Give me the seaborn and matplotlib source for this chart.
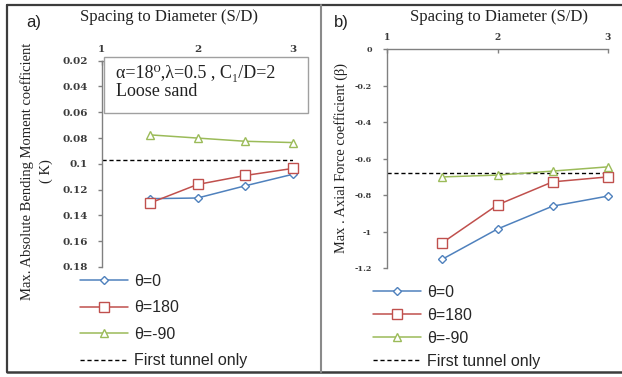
import matplotlib
matplotlib.use("Agg")
import matplotlib.pyplot as plt
from matplotlib.lines import Line2D
from matplotlib.patches import Rectangle
import seaborn as sns
import pandas as pd

# ---- data -------------------------------------------------------------
spacing = [1.5, 2.0, 2.5, 3.0]
series_labels = ["θ=0", "θ=180", "θ=-90"]

# Max. absolute bending moment coefficient K
k_theta0 = [0.127, 0.1265, 0.117, 0.108]
k_theta180 = [0.1305, 0.116, 0.109, 0.1035]
k_theta_m90 = [0.0775, 0.080, 0.0825, 0.0835]
k_first_tunnel = 0.097

# Max. axial force coefficient beta
b_theta0 = [-1.15, -0.985, -0.86, -0.805]
b_theta180 = [-1.06, -0.853, -0.727, -0.70]
b_theta_m90 = [-0.70, -0.69, -0.668, -0.645]
b_first_tunnel = -0.68

k_yticks = [0.02, 0.04, 0.06, 0.08, 0.10, 0.12, 0.14, 0.16, 0.18]
k_yticklabels = ["0.02", "0.04", "0.06", "0.08", "0.1", "0.12", "0.14", "0.16", "0.18"]
b_yticks = [0, -0.2, -0.4, -0.6, -0.8, -1.0, -1.2]
b_yticklabels = ["0", "-0.2", "-0.4", "-0.6", "-0.8", "-1", "-1.2"]
x_ticks = [1, 2, 3]

colors = ["#4F81BD", "#C0504D", "#9BBB59"]
markers = ["D", "s", "^"]
msizes = [4.5, 6.5, 6.0]

W, H = 622, 377
sns.set_theme(style="white")
plt.rcParams["font.family"] = ["Liberation Serif", "DejaVu Serif"]

fig = plt.figure(figsize=(W / 100, H / 100), dpi=100)
fig.patch.set_facecolor("white")

SANS = ["Liberation Sans", "DejaVu Sans"]


def fx(px):
    return px / W


def fy(py):
    return 1 - py / H


def draw_panel(ax, series, first_tunnel, yticks, yticklabels, ylim,
               xtick_fs, ytick_fs, ypad):
    ax.axhline(first_tunnel, color="black", lw=1.0, ls=(0, (3, 2)), zorder=1)
    handles = []
    for vals, lab, col, mk, ms in zip(series, series_labels, colors, markers, msizes):
        df = pd.DataFrame({"S/D": spacing, "value": vals})
        sns.lineplot(data=df, x="S/D", y="value", ax=ax, color=col, lw=1.1,
                     marker=mk, markersize=ms, markerfacecolor="white",
                     markeredgecolor=col, markeredgewidth=1.0, legend=False,
                     clip_on=False, zorder=3)
        handles.append(Line2D([], [], color=col, lw=1.1, marker=mk, markersize=ms,
                              markerfacecolor="white", markeredgecolor=col,
                              markeredgewidth=1.0))
    handles.append(Line2D([], [], color="black", lw=1.0, ls=(0, (3, 2))))

    ax.set_xlim(1, 3)
    ax.set_ylim(*ylim)
    ax.xaxis.tick_top()
    ax.set_xticks(x_ticks)
    ax.set_xticklabels([str(t) for t in x_ticks])
    ax.set_yticks(yticks)
    ax.set_yticklabels(yticklabels)
    ax.set_xlabel("")
    ax.set_ylabel("")
    for side in ["right", "bottom"]:
        ax.spines[side].set_visible(False)
    for side in ["left", "top"]:
        ax.spines[side].set_color("#808080")
        ax.spines[side].set_linewidth(1.0)
    ax.tick_params(axis="x", direction="in", length=3, width=1.0, color="#808080",
                   labelsize=xtick_fs, pad=5, top=True, bottom=False)
    ax.tick_params(axis="y", direction="out", length=3, width=1.0, color="#808080",
                   labelsize=ytick_fs, pad=ypad, left=True)
    for lbl in ax.get_xticklabels() + ax.get_yticklabels():
        lbl.set_family(["DejaVu Serif"])
        lbl.set_fontweight("bold")
        lbl.set_color("#3A3A3A")
    ax.patch.set_alpha(0)
    return handles


# ---- panel a: bending moment -----------------------------------------
ax1 = fig.add_axes([fx(101.7), fy(267), fx(293.3) - fx(101.7), fy(60.7) - fy(267)])
h1 = draw_panel(ax1, [k_theta0, k_theta180, k_theta_m90], k_first_tunnel,
                k_yticks, k_yticklabels, (0.18, 0.02), 7.5, 7.5, 7)
ax1.legend(h1, series_labels + ["First tunnel only"], loc="upper left",
           bbox_to_anchor=(fx(80), fy(274)), bbox_transform=fig.transFigure,
           frameon=False, borderpad=0, borderaxespad=0, handlelength=3.0,
           handletextpad=0.4, labelspacing=0.72,
           prop={"family": SANS, "size": 11.5})

# ---- panel b: axial force --------------------------------------------
ax2 = fig.add_axes([fx(387.3), fy(268.3), fx(607.7) - fx(387.3), fy(49) - fy(268.3)])
h2 = draw_panel(ax2, [b_theta0, b_theta180, b_theta_m90], b_first_tunnel,
                b_yticks, b_yticklabels, (-1.2, 0), 6.5, 5.8, 8)
ax2.legend(h2, series_labels + ["First tunnel only"], loc="upper left",
           bbox_to_anchor=(fx(373), fy(285)), bbox_transform=fig.transFigure,
           frameon=False, borderpad=0, borderaxespad=0, handlelength=3.0,
           handletextpad=0.4, labelspacing=0.5,
           prop={"family": SANS, "size": 11.5})

# ---- titles, axis labels, panel letters ------------------------------
fig.text(fx(169), fy(17), "Spacing to Diameter (S/D)", ha="center", va="center",
         fontsize=12, color="#222222")
fig.text(fx(499), fy(17), "Spacing to Diameter (S/D)", ha="center", va="center",
         fontsize=12, color="#222222")
fig.text(fx(37), fy(171), "Max. Absolute Bending Moment coefficient\n( K)",
         rotation=90, ha="center", va="center", multialignment="center",
         fontsize=10.5, color="#222222", linespacing=1.55)
fig.text(fx(341), fy(158), "Max . Axial Force coefficient (β)", rotation=90,
         ha="center", va="center", fontsize=10.4, color="#222222")
fig.text(fx(34), fy(23), "a)", ha="center", va="center", fontsize=12,
         family=SANS, color="#222222")
fig.text(fx(341), fy(22), "b)", ha="center", va="center", fontsize=12,
         family=SANS, color="#222222")

# ---- parameter box -----------------------------------------------------
fig.add_artist(Rectangle((fx(104), fy(113)), fx(308) - fx(104), fy(57) - fy(113),
                         transform=fig.transFigure, facecolor="white",
                         edgecolor="#A0A0A0", lw=1.0, zorder=5))
fig.text(fx(116), fy(74), "α=18⁰,λ=0.5 , C₁/D=2", ha="left", va="center",
         fontsize=13, color="#222222", zorder=6,
         family=["Liberation Serif", "DejaVu Serif"])
fig.text(fx(116), fy(91), "Loose sand", ha="left", va="center",
         fontsize=13, color="#222222", zorder=6)

# ---- outer frames ------------------------------------------------------
frame_col = "#3C3C3C"
fig.add_artist(Line2D([fx(7), fx(7)], [fy(5), fy(372)], color=frame_col, lw=1.6,
                      transform=fig.transFigure))
fig.add_artist(Line2D([fx(7), fx(622)], [fy(5), fy(5)], color=frame_col, lw=1.6,
                      transform=fig.transFigure))
fig.add_artist(Line2D([fx(7), fx(622)], [fy(372), fy(372)], color=frame_col, lw=1.8,
                      transform=fig.transFigure))
fig.add_artist(Line2D([fx(320.5), fx(320.5)], [fy(5), fy(372)], color="#8A8A8A",
                      lw=1.5, transform=fig.transFigure))

fig.savefig("out.png", dpi=100, facecolor="white")
